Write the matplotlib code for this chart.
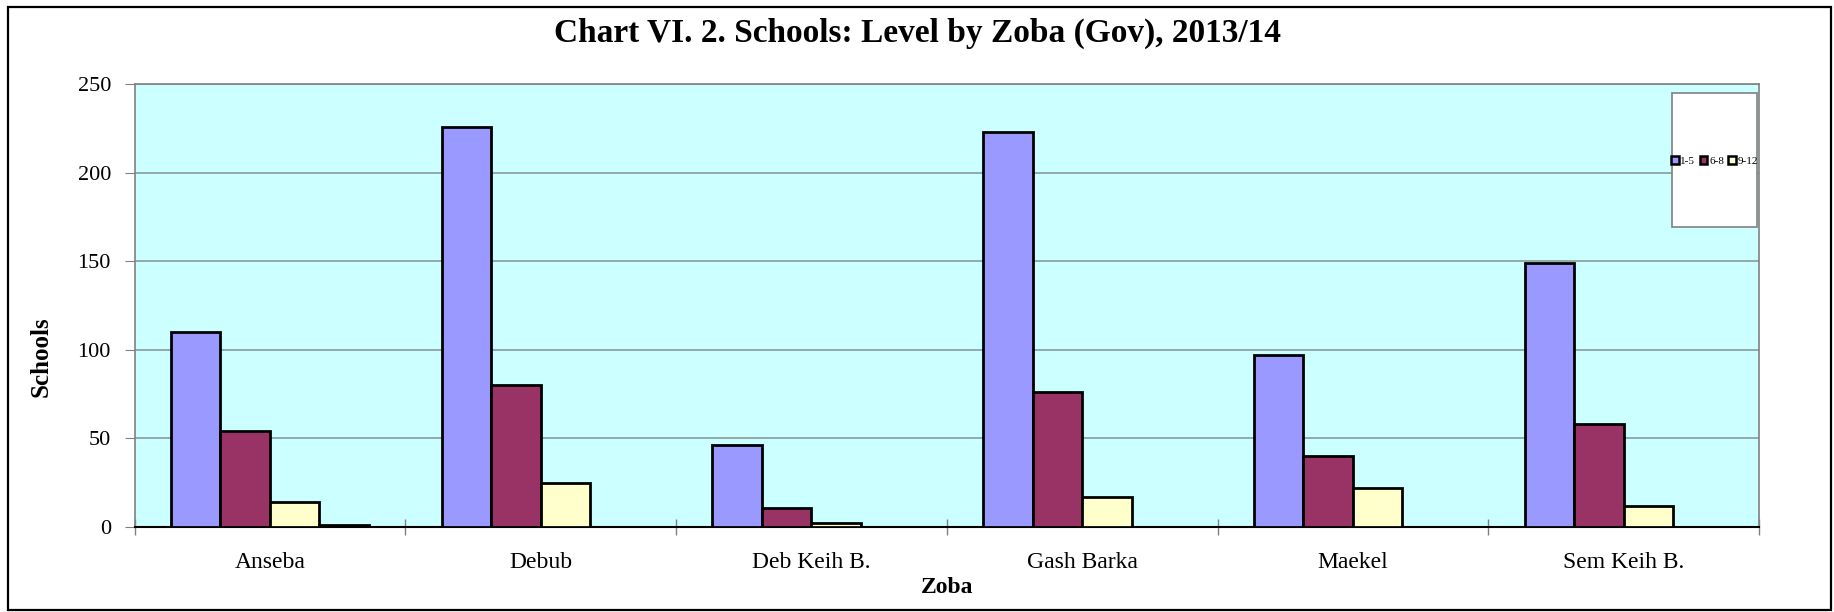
import numpy as np
import matplotlib
matplotlib.use("Agg")
import matplotlib.pyplot as plt
from matplotlib.patches import Rectangle, Patch

zobas = ["Anseba", "Debub", "Deb Keih B.", "Gash Barka", "Maekel", "Sem Keih B."]
level_1_5 = [110, 226, 46, 223, 97, 149]
level_6_8 = [54, 80, 11, 76, 40, 58]
level_9_12 = [14, 25, 2, 17, 22, 12]
level_other = [1, 0, 0, 0, 0, 0]

series = [
    ("1-5", level_1_5, "#9999FF"),
    ("6-8", level_6_8, "#993366"),
    ("9-12", level_9_12, "#FFFFCC"),
    (None, level_other, "#CCFFFF"),
]

plt.rcParams["font.family"] = ["Liberation Serif", "DejaVu Serif"]

W, H = 1834, 612
fig = plt.figure(figsize=(W / 100, H / 100), dpi=100)

# outer chart border
fig.add_artist(Rectangle((8 / W, 2 / H), (W - 11) / W, (H - 9) / H,
                         transform=fig.transFigure, fill=False,
                         edgecolor="black", linewidth=1.6))

left, right, top, bottom = 134.5, 1759, 84, 527
ax = fig.add_axes([left / W, 1 - bottom / H, (right - left) / W, (bottom - top) / H])
ax.set_facecolor("#CCFFFF")

n = len(zobas)
x = np.arange(n) + 0.5
w = 0.1827
for k, (name, vals, col) in enumerate(series):
    ax.bar(x + (k - 1.5) * w, vals, width=w, color=col, edgecolor="black",
           linewidth=2.0, zorder=3)

ax.set_xlim(0, n)
ax.set_ylim(0, 250)
ax.set_yticks(np.arange(0, 251, 50))
ax.yaxis.grid(True, color="#8A9A9A", linewidth=1.2, zorder=1)
ax.set_axisbelow(True)

ax.set_xticks(np.arange(0, n + 1))
ax.set_xticklabels([])
ax.set_xticks(x, minor=True)
ax.set_xticklabels(zobas, minor=True, fontsize=17)
ax.tick_params(axis="x", which="major", direction="inout", length=12,
               color="#808080", width=1)
ax.tick_params(axis="x", which="minor", length=0, pad=18)
ax.tick_params(axis="y", direction="out", length=7, color="#808080",
               labelsize=16, pad=10)

for s in ["top", "right", "left"]:
    ax.spines[s].set_color("#808080")
    ax.spines[s].set_linewidth(1.2)
ax.spines["bottom"].set_color("black")
ax.spines["bottom"].set_linewidth(1.5)

ax.set_xlabel("Zoba", fontsize=17, fontweight="bold", labelpad=3)
fig.text(41 / W, 1 - 357 / H, "Schools", rotation=90, ha="center", va="center",
         fontsize=18, fontweight="bold")

fig.text(0.5, 1 - 33 / H, "Chart VI. 2. Schools: Level by Zoba (Gov), 2013/14",
         ha="center", va="center", fontsize=24, fontweight="bold")

# legend box
lx0, ly0, lx1, ly1 = 1672, 93, 1757, 227
fig.add_artist(Rectangle((lx0 / W, 1 - ly1 / H), (lx1 - lx0) / W, (ly1 - ly0) / H,
                         transform=fig.transFigure, facecolor="white",
                         edgecolor="#808080", linewidth=1.2, zorder=5))
handles = [Patch(facecolor=c, edgecolor="black", linewidth=1.8)
           for name, v, c in series if name]
labels = [name for name, v, c in series if name]
fig.legend(handles, labels, loc="center",
           bbox_to_anchor=((lx0 + lx1) / 2 / W, 1 - 161 / H),
           ncol=3, frameon=False, fontsize=8, handlelength=0.7,
           handleheight=0.7, handletextpad=0.15, columnspacing=0.4,
           borderpad=0)

fig.savefig("out.png", dpi=100)
